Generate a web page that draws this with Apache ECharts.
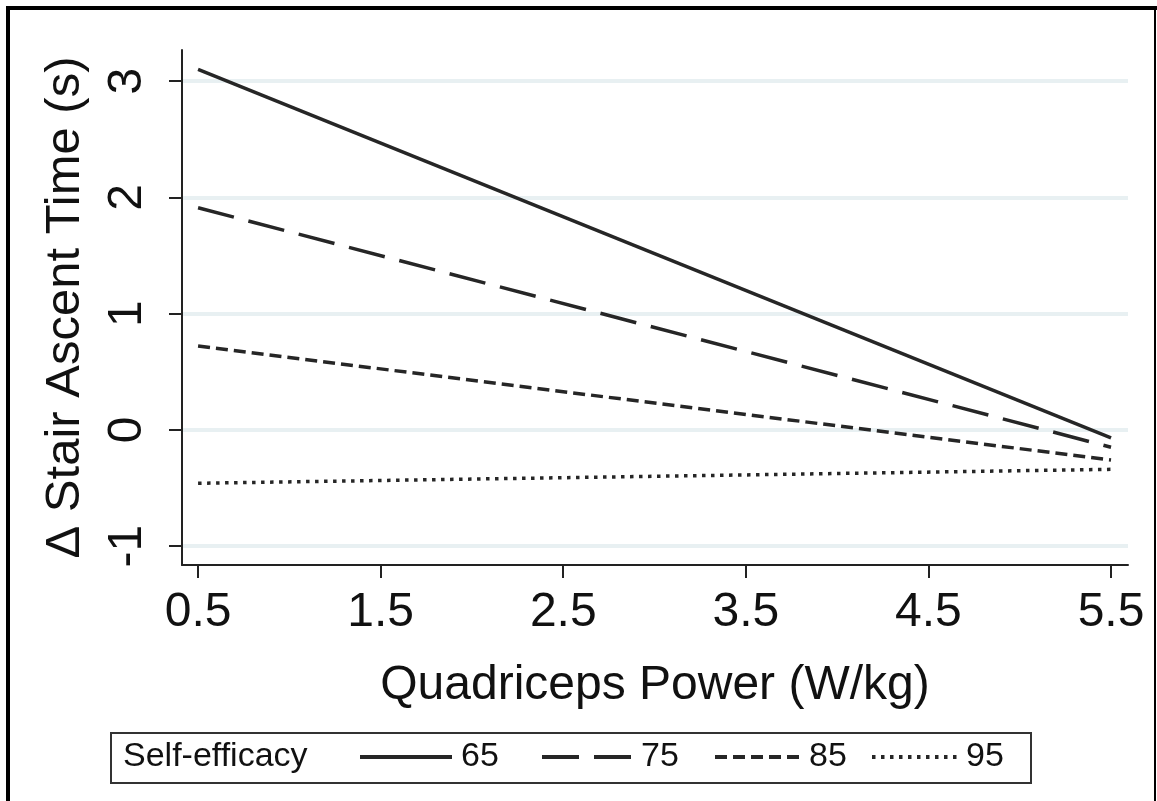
<!DOCTYPE html>
<html>
<head>
<meta charset="utf-8">
<script src="https://cdn.jsdelivr.net/npm/echarts@6.0.0/dist/echarts.min.js"></script>
<style>
  html, body { margin: 0; padding: 0; background: #fff; }
  #chart { width: 1157px; height: 801px; }
</style>
</head>
<body>
<div id="chart"></div>
<script>
// quadriceps power (W/kg) at the two ends of each fitted line
const power = [0.5, 5.5];
// change in stair ascent time (s) per self-efficacy level
const se65 = [3.10, -0.07];
const se75 = [1.91, -0.15];
const se85 = [0.72, -0.26];
const se95 = [-0.46, -0.34];
const levels = ['65', '75', '85', '95'];
const xTicks = [0.5, 1.5, 2.5, 3.5, 4.5, 5.5];
const yTicks = [-1, 0, 1, 2, 3];

const font = 'Liberation Sans, Arial, sans-serif';
const ink = '#262626';

const pts = (ys) => power.map((x, i) => [x, ys[i]]);

const dashes = ['solid', [37, 15], [12, 6], [3.5, 5.5]];
const values = [se65, se75, se85, se95];

// one legend block per level so each sits where the original has it
const legendLeft = [353, 535, 708, 865];
const legendLen = [92, 90, 85, 85];

const chart = echarts.init(document.getElementById('chart'));
const option = {
    backgroundColor: '#fff',
    animation: false,
    grid: { left: 182, right: 29, top: 50, bottom: 236 },
    xAxis: {
        type: 'value',
        min: 0.412,
        max: 5.593,
        name: 'Quadriceps Power (W/kg)',
        nameLocation: 'middle',
        nameGap: 97,
        nameTextStyle: { fontSize: 48, color: '#111', fontFamily: font },
        axisLine: { show: true, onZero: false, lineStyle: { color: '#222', width: 2 } },
        axisTick: { show: true, customValues: xTicks, length: 13, lineStyle: { color: '#222', width: 2 } },
        axisLabel: {
            customValues: xTicks, margin: 24, fontSize: 48, color: '#111', fontFamily: font,
            formatter: v => v.toFixed(1)
        },
        splitLine: { show: false }
    },
    yAxis: {
        type: 'value',
        min: -1.163,
        max: 3.267,
        name: 'Δ Stair Ascent Time (s)',
        nameLocation: 'middle',
        nameGap: 92,
        nameTextStyle: { fontSize: 49, color: '#111', fontFamily: font },
        axisLine: { show: true, onZero: false, lineStyle: { color: '#222', width: 2 } },
        axisTick: { show: true, customValues: yTicks, length: 13, lineStyle: { color: '#222', width: 2 } },
        axisLabel: { customValues: yTicks, rotate: 90, margin: 30, fontSize: 48, color: '#111', fontFamily: font },
        splitLine: { show: true, lineStyle: { color: '#e8f0f2', width: 4 } }
    },
    legend: levels.map((name, i) => ({
        left: legendLeft[i],
        top: 735,
        itemWidth: legendLen[i],
        itemHeight: 20,
        data: [name],
        lineStyle: { width: 4 },
        itemStyle: { opacity: 0 },
        textStyle: { fontSize: 34, color: '#111', fontFamily: font, padding: [0, 0, 0, 4] }
    })),
    graphic: [
        // outer frame
        { type: 'line', shape: { x1: 6, y1: 8, x2: 1157, y2: 8 }, style: { stroke: '#000', lineWidth: 4 } },
        { type: 'line', shape: { x1: 8, y1: 6, x2: 8, y2: 801 }, style: { stroke: '#000', lineWidth: 4 } },
        { type: 'line', shape: { x1: 1155, y1: 6, x2: 1155, y2: 801 }, style: { stroke: '#000', lineWidth: 2 } },
        // legend box
        { type: 'rect', shape: { x: 111, y: 733, width: 920, height: 50 }, style: { fill: 'none', stroke: '#333', lineWidth: 2 } },
        { type: 'text', x: 123, y: 757, style: { text: 'Self-efficacy', fontSize: 34, fill: '#111', fontFamily: font, verticalAlign: 'middle' } }
    ],
    series: levels.map((name, i) => ({
        name: name,
        type: 'line',
        symbol: 'none',
        data: pts(values[i]),
        lineStyle: { color: ink, width: 3.5, type: dashes[i] },
        itemStyle: { color: ink }
    }))
};
chart.setOption(option);
</script>
</body>
</html>
